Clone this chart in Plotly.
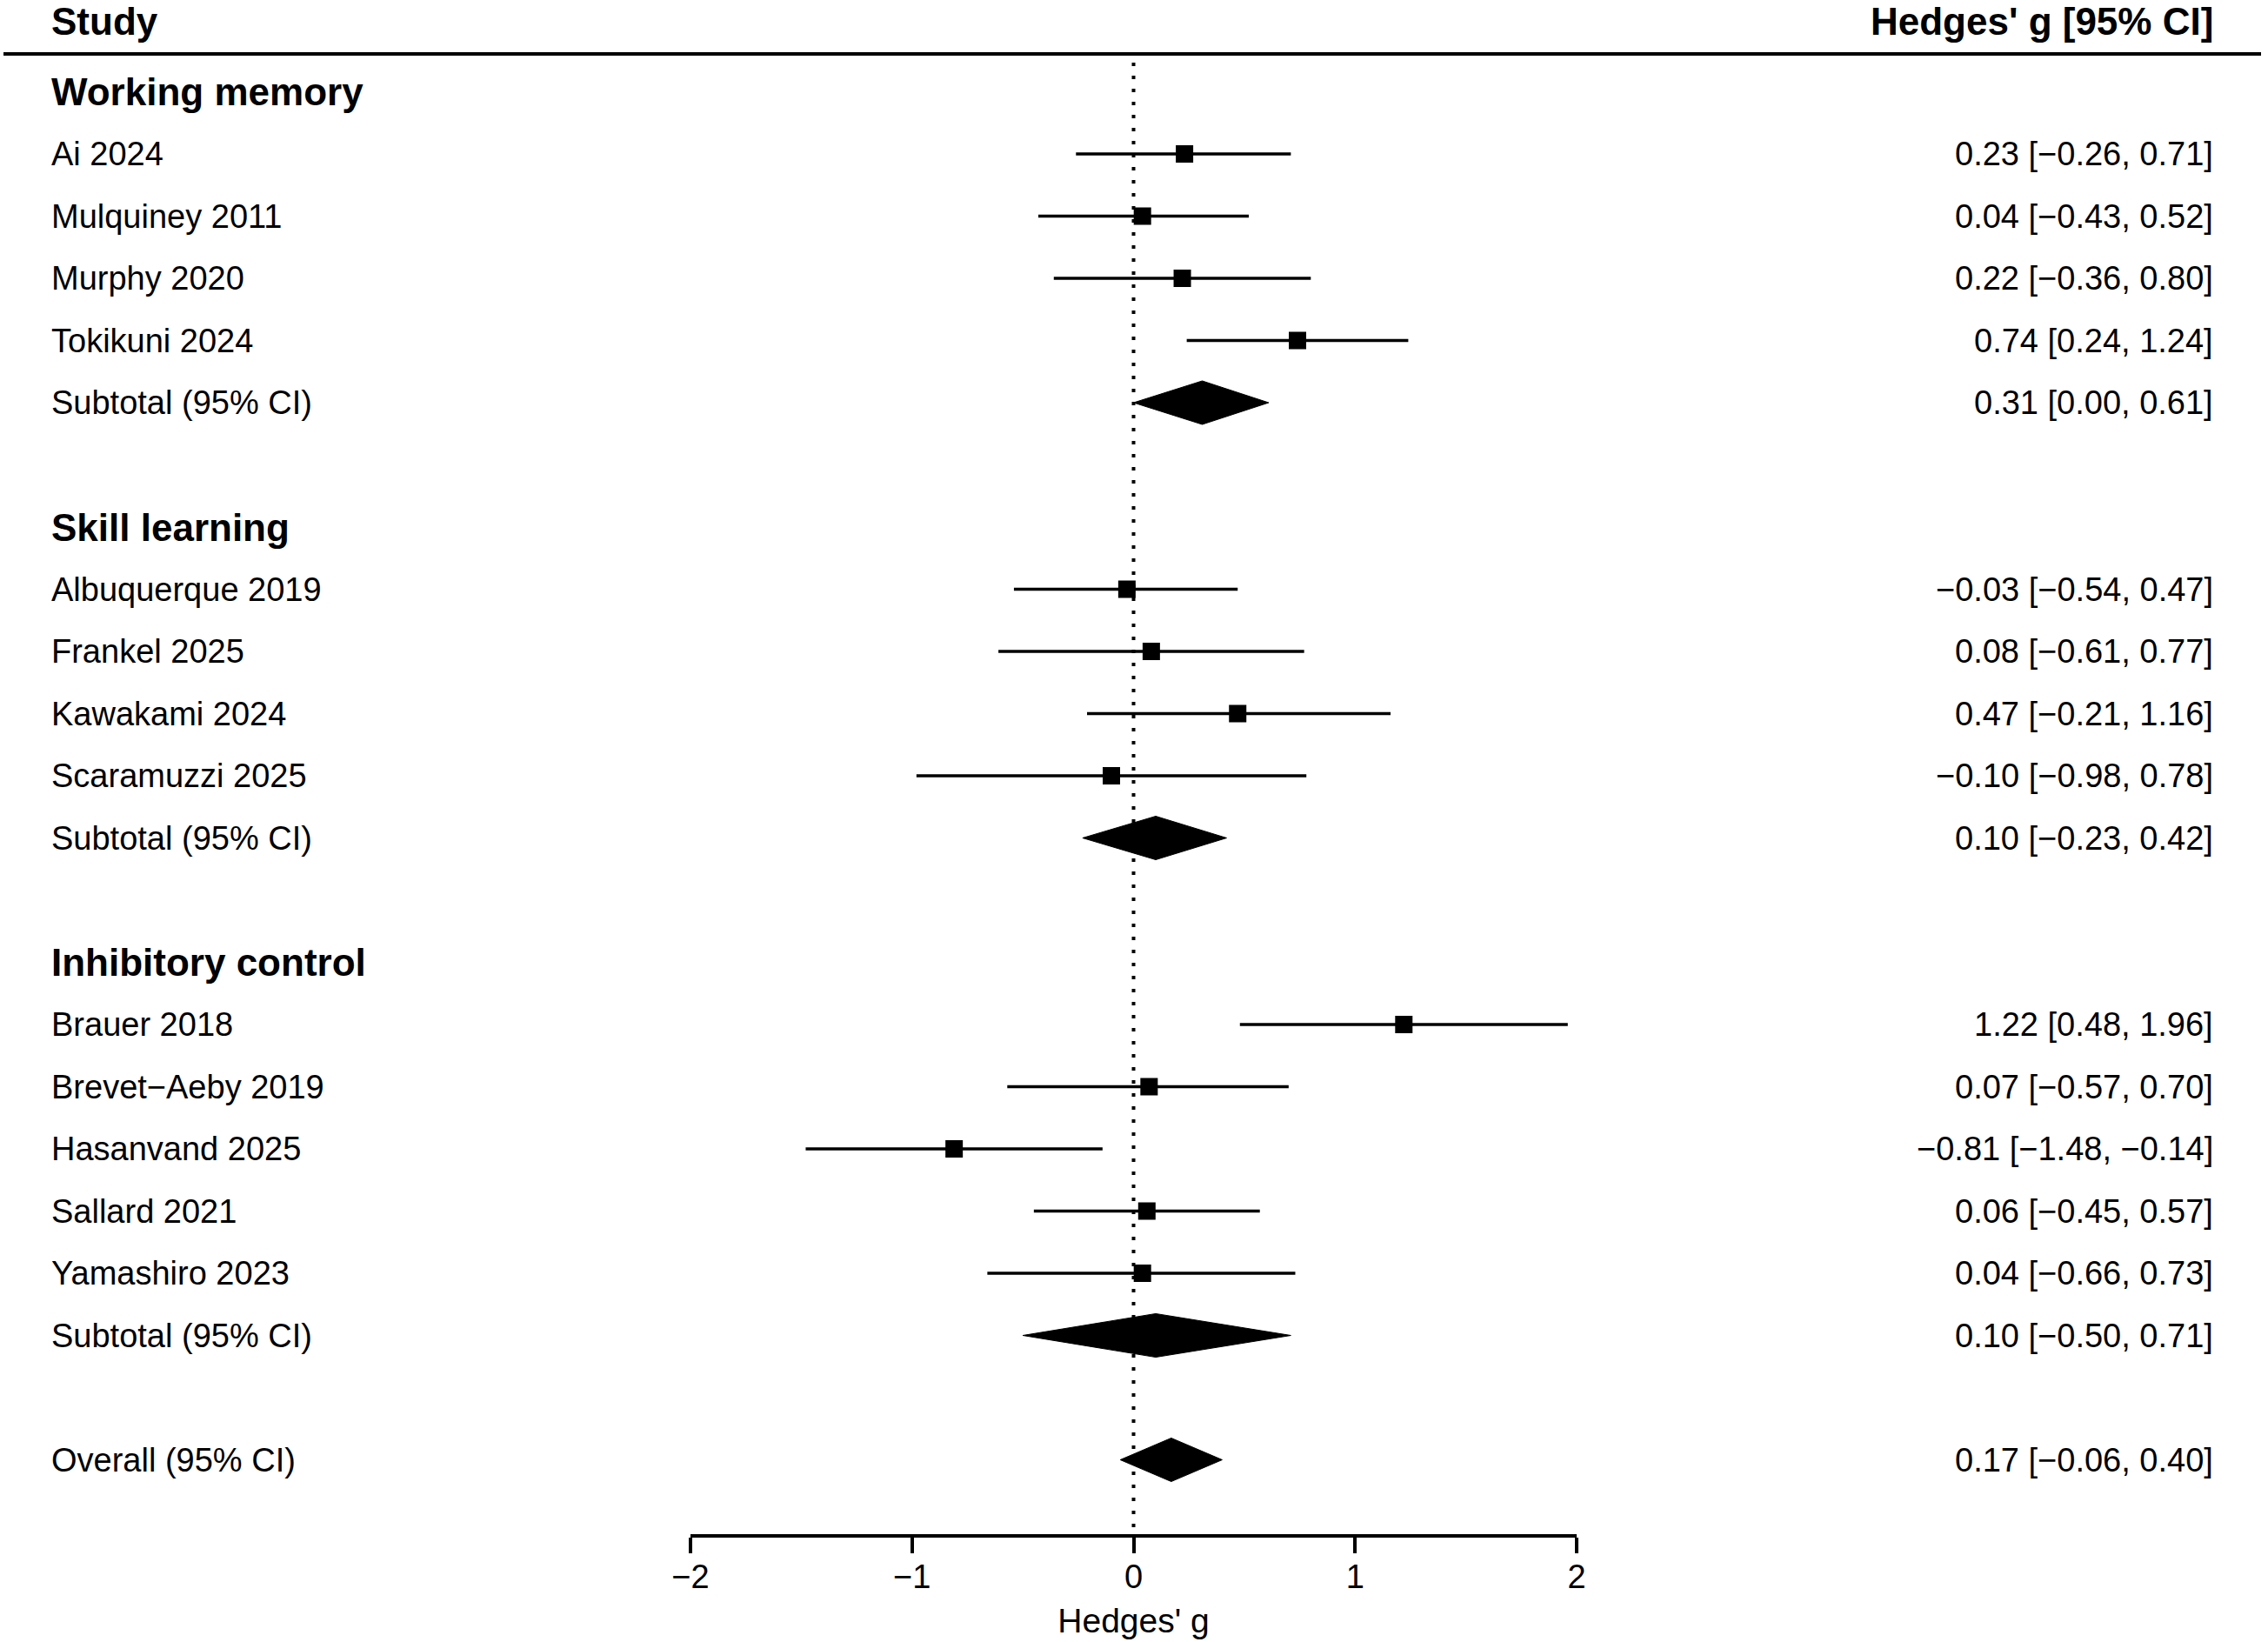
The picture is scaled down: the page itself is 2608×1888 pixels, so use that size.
import plotly.graph_objects as go

# study-level effects (Hedges' g with 95% CI)
groups = ["Working memory", "Skill learning", "Inhibitory control"]

wm_names = ["Ai 2024", "Mulquiney 2011", "Murphy 2020", "Tokikuni 2024"]
wm_g = [0.23, 0.04, 0.22, 0.74]
wm_lo = [-0.26, -0.43, -0.36, 0.24]
wm_hi = [0.71, 0.52, 0.80, 1.24]

sl_names = ["Albuquerque 2019", "Frankel 2025", "Kawakami 2024", "Scaramuzzi 2025"]
sl_g = [-0.03, 0.08, 0.47, -0.10]
sl_lo = [-0.54, -0.61, -0.21, -0.98]
sl_hi = [0.47, 0.77, 1.16, 0.78]

ic_names = ["Brauer 2018", "Brevet\u2212Aeby 2019", "Hasanvand 2025", "Sallard 2021", "Yamashiro 2023"]
ic_g = [1.22, 0.07, -0.81, 0.06, 0.04]
ic_lo = [0.48, -0.57, -1.48, -0.45, -0.66]
ic_hi = [1.96, 0.70, -0.14, 0.57, 0.73]

# pooled estimates per group, then overall
sub_g = [0.31, 0.10, 0.10]
sub_lo = [0.00, -0.23, -0.50]
sub_hi = [0.61, 0.42, 0.71]

overall_g, overall_lo, overall_hi = 0.17, -0.06, 0.40

tick_vals = [-2, -1, 0, 1, 2]

# page geometry (pixels)
W, H = 2608, 1888
ROW0, ROWH = 105.5, 71.5
AXIS_Y = 1764
X_LEFT, X_RIGHT = 794, 1813
TEXT_L, TEXT_R = 57, 2547
FONT = "Liberation Sans, Arial, Helvetica, sans-serif"


def fmt(v):
    return f"{v:.2f}".replace("-", "\u2212")


def ci_text(g, lo, hi):
    return f"{fmt(g)} [{fmt(lo)}, {fmt(hi)}]"


fig = go.Figure()
annotations = []


def label(k, text, side="left", bold=False, size=38):
    annotations.append(dict(
        x=(TEXT_L if side == "left" else TEXT_R) / W, xref="paper",
        y=k, yref="y", xanchor=side, yanchor="middle",
        text=f"<b>{text}</b>" if bold else text, showarrow=False,
        font=dict(family=FONT, size=size, color="black"),
    ))


def diamond(k, g, lo, hi, half=0.35):
    fig.add_trace(go.Scatter(
        x=[lo, g, hi, g, lo], y=[k, k - half, k, k + half, k],
        mode="lines", fill="toself", fillcolor="black",
        line=dict(color="black", width=1), hoverinfo="skip",
        showlegend=False, cliponaxis=False,
    ))


data = [(wm_names, wm_g, wm_lo, wm_hi),
        (sl_names, sl_g, sl_lo, sl_hi),
        (ic_names, ic_g, ic_lo, ic_hi)]

k = 0
for gi, (names, g, lo, hi) in enumerate(data):
    label(k, groups[gi], bold=True, size=44)
    rows = list(range(k + 1, k + 1 + len(names)))
    fig.add_trace(go.Scatter(
        x=g, y=rows, mode="markers",
        marker=dict(symbol="square", size=20, color="black"),
        error_x=dict(type="data", symmetric=False,
                     array=[h - e for h, e in zip(hi, g)],
                     arrayminus=[e - l for e, l in zip(g, lo)],
                     width=0, thickness=3.6, color="black"),
        showlegend=False, cliponaxis=False,
    ))
    for r, n, e, l, h in zip(rows, names, g, lo, hi):
        label(r, n)
        label(r, ci_text(e, l, h), side="right")
    k = rows[-1] + 1
    label(k, "Subtotal (95% CI)")
    label(k, ci_text(sub_g[gi], sub_lo[gi], sub_hi[gi]), side="right")
    diamond(k, sub_g[gi], sub_lo[gi], sub_hi[gi])
    k += 2

label(k, "Overall (95% CI)")
label(k, ci_text(overall_g, overall_lo, overall_hi), side="right")
diamond(k, overall_g, overall_lo, overall_hi)

# column headers
head_k = (24 - ROW0) / ROWH
label(head_k, "Study", bold=True, size=44)
label(head_k, "Hedges' g [95% CI]", side="right", bold=True, size=44)

y_top = -ROW0 / ROWH
y_bot = (AXIS_Y - ROW0) / ROWH
rule_k = (62 - ROW0) / ROWH
dot_k = (72 - ROW0) / ROWH

shapes = [
    dict(type="line", xref="paper", yref="y", x0=4 / W, x1=2600 / W,
         y0=rule_k, y1=rule_k, line=dict(color="black", width=3.8)),
    dict(type="line", xref="x", yref="y", x0=0, x1=0, y0=dot_k, y1=y_bot,
         line=dict(color="black", width=4, dash="4px,11px")),
]

fig.update_layout(
    width=W, height=H,
    margin=dict(l=0, r=0, t=0, b=H - AXIS_Y, pad=0, autoexpand=False),
    paper_bgcolor="white", plot_bgcolor="white",
    font=dict(family=FONT, size=38, color="black"),
    annotations=annotations, shapes=shapes,
    xaxis=dict(
        domain=[X_LEFT / W, X_RIGHT / W], range=[-2, 2],
        automargin=False, showgrid=False, zeroline=False,
        showline=True, linecolor="black", linewidth=3.8,
        ticks="outside", ticklen=18, tickwidth=3.8, tickcolor="black",
        tickvals=tick_vals, ticktext=[fmt(v).replace(".00", "") for v in tick_vals],
        tickfont=dict(family=FONT, size=38, color="black"),
        ticklabelstandoff=-6,
        title=dict(text="Hedges' g", font=dict(family=FONT, size=39, color="black"), standoff=18),
    ),
    yaxis=dict(range=[y_bot, y_top], visible=False, automargin=False,
               showgrid=False, zeroline=False),
)

# drop the browser's default body margin so the figure sits at the page corner
fig.write_html("out.html", config={"displayModeBar": False},
               post_script="document.body.style.margin = '0';")
